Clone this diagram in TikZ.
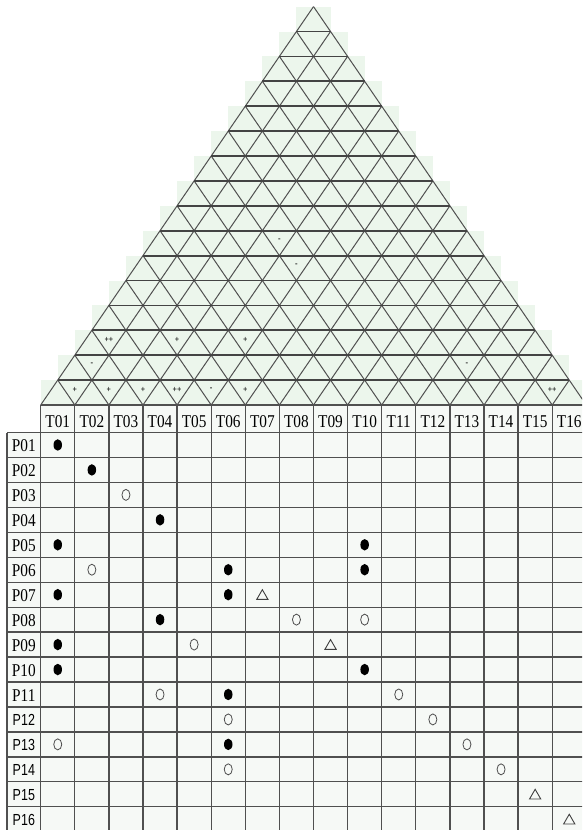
\documentclass[tikz,border=0pt]{standalone}
\usepackage{fontspec}
\setmainfont{Liberation Serif}[FakeStretch=0.85]
\newfontfamily\plsans{Liberation Sans}[FakeStretch=0.78]
\usetikzlibrary{shapes.geometric}
\definecolor{linegray}{RGB}{80,80,80}
\definecolor{roofgreen}{RGB}{236,246,236}
\definecolor{celltint}{RGB}{246,249,246}
\begin{document}
\begin{tikzpicture}[x=1pt,y=-1pt,
  roofline/.style={line width=1pt, draw=linegray},
  roofhline/.style={line width=1.8pt, draw=linegray!85!black},
  gridline/.style={line width=1.3pt, draw=linegray},
  hdr/.style={font=\fontsize{18}{18}\selectfont, inner sep=0pt, anchor=base},
  plab/.style={font=\fontsize{18}{18}\selectfont, inner sep=0pt, anchor=base},
  plabs/.style={font=\plsans\fontsize{16}{16}\selectfont, inner sep=0pt, anchor=base},
  corr/.style={font=\fontsize{9}{9}\selectfont\bfseries, inner sep=0pt},
  full/.style={ellipse, fill=black, minimum width=8.5pt, minimum height=11.5pt, inner sep=0pt},
  hollow/.style={ellipse, draw=black!70, line width=0.8pt, minimum width=8pt, minimum height=11pt, inner sep=0pt},
  tri/.style={regular polygon, regular polygon sides=3, draw=black!75, line width=0.9pt, minimum size=13pt, inner sep=0pt},
]
\useasboundingbox (0,0) rectangle (582,830);
\clip (0,0) rectangle (582,830);
\def\L{40.7}
\def\W{34.1}
\def\B{405}
\def\H{24.9}
\def\R{24.95}
\def\HT{432.5}
\def\PL{7}
% roof green stepped background
\foreach \k in {1,...,16}{
  \fill[roofgreen] ({\L+(\k-1)*\W/2},{\B-\k*\H}) rectangle ({\L+16*\W-(\k-1)*\W/2},{\B-(\k-1)*\H});
}
% table tint
\fill[celltint] (\L,\B) rectangle ({\L+16*\W},{\HT+16*\R});
\fill[celltint] (\PL,\HT) rectangle (\L,{\HT+16*\R});
% roof diagonals
\foreach \j in {0,...,15}{
  \draw[roofline] ({\L+\j*\W},\B) -- ({\L+\j*\W+(16-\j)*\W/2},{\B-(16-\j)*\H});
}
\foreach \j in {1,...,16}{
  \draw[roofline] ({\L+\j*\W},\B) -- ({\L+\j*\W/2},{\B-\j*\H});
}
% roof horizontals
\foreach \k in {1,...,15}{
  \draw[roofhline] ({\L+\k*\W/2},{\B-\k*\H}) -- ({\L+16*\W-\k*\W/2},{\B-\k*\H});
}
% correlation labels
\foreach \i/\k/\s [count=\n] in {1/1/+,2/1/+,3/1/+,4/1/++,5/1/-,6/1/+,15/1/++,1/2/-,12/2/-,1/3/++,3/3/+,5/3/+,5/6/-,4/7/-}{
  \node[corr] (c\n) at ({\L+(\i-0.5)*\W+\k*\W/2},{\B-(\k-1)*\H-0.62*\H}) {\s};
}
% table grid
\draw[gridline] (\L,\B) -- ({\L+16*\W},\B);
\foreach \r in {0,...,16}{
  \draw[gridline] (\PL,{\HT+\r*\R}) -- ({\L+16*\W},{\HT+\r*\R});
}
\draw[gridline] (\PL,\HT) -- (\PL,{\HT+16*\R});
\foreach \c in {0,...,16}{
  \draw[gridline] ({\L+\c*\W},\B) -- ({\L+\c*\W},{\HT+16*\R});
}
% headers
\foreach \c in {1,...,16}{
  \node[hdr] (t\c) at ({\L+(\c-0.5)*\W},{\B+22.5}) {T\ifnum\c<10 0\fi\c};
}
\foreach \r in {1,...,11}{
  \node[plab] (p\r) at ({(\PL+\L)/2},{\HT+(\r-1)*\R+19}) {P\ifnum\r<10 0\fi\r};
}
\foreach \r in {12,...,16}{
  \node[plabs] (p\r) at ({(\PL+\L)/2},{\HT+(\r-1)*\R+19}) {P\r};
}
% symbols
\foreach \r/\c in {1/1,2/2,4/4,5/1,5/10,6/6,6/10,7/1,7/6,8/4,9/1,10/1,10/10,11/6,13/6}{
  \node[full] (f\r-\c) at ({\L+(\c-0.5)*\W},{\HT+(\r-0.5)*\R}) {};
}
\foreach \r/\c in {3/3,6/2,8/8,8/10,9/5,11/4,11/11,12/6,12/12,13/1,13/13,14/6,14/14}{
  \node[hollow] (o\r-\c) at ({\L+(\c-0.5)*\W},{\HT+(\r-0.5)*\R}) {};
}
\foreach \r/\c in {7/7,9/9,15/15,16/16}{
  \node[tri] (d\r-\c) at ({\L+(\c-0.5)*\W},{\HT+(\r-0.5)*\R+1.5}) {};
}
\end{tikzpicture}
\end{document}
